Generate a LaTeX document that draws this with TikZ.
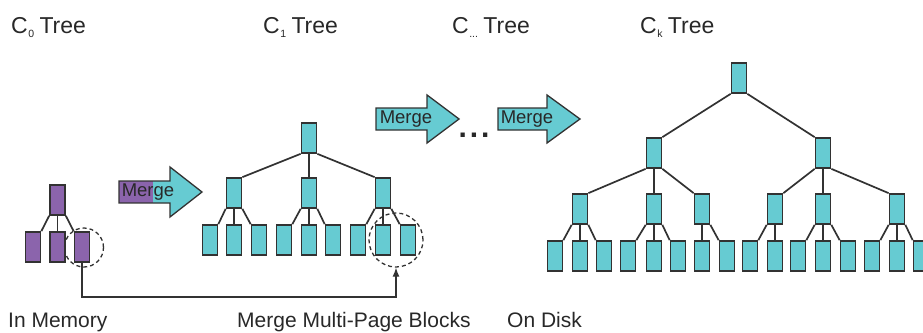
\documentclass[tikz,border=0pt]{standalone}
\usepackage{fontspec}
\setmainfont{Liberation Sans}
\usetikzlibrary{arrows.meta}
\definecolor{tealfill}{RGB}{102,203,210}
\definecolor{purpfill}{RGB}{139,100,172}
\definecolor{edgecol}{RGB}{50,50,50}
\definecolor{txtcol}{RGB}{40,40,40}
\tikzset{
 blk/.style={draw=edgecol, line width=1.7pt, fill=tealfill, minimum width=15pt, minimum height=30pt, inner sep=0pt},
 pblk/.style={blk, fill=purpfill},
 lnk/.style={draw=edgecol, line width=1.7pt},
 lbl/.style={font=\fontsize{21}{21}\selectfont, text=txtcol, anchor=base west, inner sep=0pt},
 ttl/.style={font=\fontsize{23}{23}\selectfont, text=txtcol, anchor=base west, inner sep=0pt},
 mrg/.style={font=\fontsize{18.5}{18.5}\selectfont, text=txtcol, inner sep=0pt},
 ring/.style={circle, draw=edgecol, dash pattern=on 4pt off 3pt, line width=1.3pt, inner sep=0pt},
 arrowshape/.style={draw=edgecol, line width=1.3pt, line join=miter},
}
\newcommand\linkL[2]{\draw[lnk] (#1.south west) -- (#2.north east);}
\newcommand\linkM[2]{\draw[lnk] (#1.south) -- (#2.north);}
\newcommand\linkR[2]{\draw[lnk] (#1.south east) -- (#2.north west);}
\newcommand\subs[1]{\hspace{0.5pt}\raisebox{-4pt}{\fontsize{10.5}{10.5}\selectfont #1}\hspace{-1pt}}
\begin{document}
\begin{tikzpicture}[x=1pt,y=-1pt]
\useasboundingbox (0,0) rectangle (923,332);
\clip (0,0) rectangle (923,332);

% titles
\node[ttl] (t0) at (11,33) {C\subs{0} Tree};
\node[ttl] (t1) at (263,33) {C\subs{1} Tree};
\node[ttl] (t2) at (452,33) {C\subs{...} Tree};
\node[ttl] (t3) at (640,33) {C\subs{k} Tree};

% bottom labels
\node[lbl] (b0) at (8,327) {In Memory};
\node[lbl] (b1) at (237,327) {Merge Multi-Page Blocks};
\node[lbl] (b2) at (507,327) {On Disk};

% C0 tree
\node[pblk] (a0) at (57.5,200) {};
\node[pblk] (a1) at (33,247) {};
\node[pblk] (a2) at (57.5,247) {};
\node[pblk] (a3) at (82,247) {};
\linkL{a0}{a1}\linkM{a0}{a2}\linkR{a0}{a3}
\node[ring, minimum size=39pt] (r0) at (84,247.5) {};

% C1 tree
\node[blk] (c0) at (309,138) {};
\node[blk] (c1) at (234,193) {};
\node[blk] (c2) at (309,193) {};
\node[blk] (c3) at (383,193) {};
\foreach \i/\x in {1/210,2/234,3/259,4/284,5/309,6/333,7/358,8/383,9/408}
  \node[blk] (cl\i) at (\x,240) {};
\linkL{c0}{c1}\linkM{c0}{c2}\linkR{c0}{c3}
\linkL{c1}{cl1}\linkM{c1}{cl2}\linkR{c1}{cl3}
\linkL{c2}{cl4}\linkM{c2}{cl5}\linkR{c2}{cl6}
\linkL{c3}{cl7}\linkM{c3}{cl8}\linkR{c3}{cl9}
\node[ring, minimum size=54pt] (r1) at (396,240) {};

% Ck tree
\node[blk] (k0) at (739,78) {};
\node[blk] (k1) at (654,153) {};
\node[blk] (k2) at (823,153) {};
\node[blk] (k11) at (580,209) {};
\node[blk] (k12) at (654,209) {};
\node[blk] (k13) at (702,209) {};
\node[blk] (k21) at (775,209) {};
\node[blk] (k22) at (823,209) {};
\node[blk] (k23) at (897,209) {};
\foreach \i/\x in {1/555,2/580,3/604,4/628,5/654,6/678,7/702,8/727,9/750,10/775,11/798,12/823,13/848,14/872,15/897,16/921}
  \node[blk] (kl\i) at (\x,256) {};
\linkL{k0}{k1}\linkR{k0}{k2}
\linkL{k1}{k11}\linkM{k1}{k12}\linkR{k1}{k13}
\linkL{k2}{k21}\linkM{k2}{k22}\linkR{k2}{k23}
\linkL{k11}{kl1}\linkM{k11}{kl2}\linkR{k11}{kl3}
\linkL{k12}{kl4}\linkM{k12}{kl5}\linkR{k12}{kl6}
\linkM{k13}{kl7}\linkR{k13}{kl8}
\linkL{k21}{kl9}\linkM{k21}{kl10}
\linkL{k22}{kl11}\linkM{k22}{kl12}\linkR{k22}{kl13}
\linkL{k23}{kl14}\linkM{k23}{kl15}\linkR{k23}{kl16}

% multi-page block connector
\coordinate (turn) at (82,297);
\draw[lnk, line width=1.3pt, -{Latex[length=9pt,width=7pt]}] (a3.south) -- (turn) -| (r1.south);

% merge arrows
\path[fill=purpfill] (119,181) rectangle (153,203);
\path[fill=tealfill] (153,181) -- (170,181) -- (170,167) -- (202,192) -- (170,217) -- (170,203) -- (153,203) -- cycle;
\draw[arrowshape] (119,181) -- (170,181) -- (170,167) -- (202,192) -- (170,217) -- (170,203) -- (119,203) -- cycle;
\node[mrg] (m1) at (148,192) {Merge};

\draw[arrowshape, fill=tealfill] (376,108) -- (427,108) -- (427,95) -- (459,119) -- (427,143) -- (427,130) -- (376,130) -- cycle;
\node[mrg] (m2) at (406,119) {Merge};

\draw[arrowshape, fill=tealfill] (498,108) -- (547,108) -- (547,95) -- (580,119) -- (547,143) -- (547,130) -- (498,130) -- cycle;
\node[mrg] (m3) at (527,119) {Merge};

\node[font=\fontsize{30}{30}\selectfont\bfseries, text=txtcol, inner sep=0pt, anchor=base] (dots) at (474,137.5) {.\hspace{3pt}.\hspace{3pt}.};
\end{tikzpicture}
\end{document}
